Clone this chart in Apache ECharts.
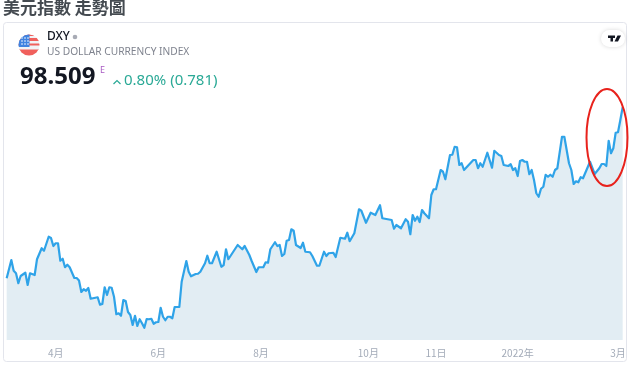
<!DOCTYPE html>
<html><head><meta charset="utf-8">
<style>html,body{margin:0;padding:0;background:#fff}#c{width:639px;height:371px}</style>
<script src="https://cdn.jsdelivr.net/npm/echarts@6/dist/echarts.min.js"></script>
</head><body><div id="c"></div>
<script>
const titleText = '美元指數 走勢圖';
const symbolText = 'DXY';
const nameText = 'US DOLLAR CURRENCY INDEX';
const lastPrice = '98.509';
const changeText = '0.80% (0.781)';
const tickSessions = [21, 65, 109, 155, 184, 219, 262];
const tickLabels = ['4月', '6月', '8月', '10月', '11日', '2022年', '3月'];
const sessions = [0,2,3,4,5,6,8,9,10,12,13,15,16,18,19,20,21,22,23,24,25,26,27,29,30,31,32,33,34,35,36,39,40,41,42,43,44,45,46,47,48,49,50,51,52,53,54,55,56,57,58,59,60,61,62,63,64,65,66,67,68,69,70,71,72,74,75,77,78,79,81,82,83,85,86,87,88,90,92,93,94,95,99,101,102,104,105,107,108,110,111,112,113,115,116,117,118,119,120,121,122,123,124,126,127,128,130,131,133,134,136,137,138,140,141,143,145,146,147,149,151,152,154,156,158,160,161,165,166,167,169,171,172,173,174,175,176,177,178,179,181,182,183,184,186,187,188,190,191,192,193,194,195,196,198,200,201,202,203,204,206,208,209,211,212,213,215,216,217,218,219,220,221,222,223,224,225,226,227,228,229,230,231,232,233,234,235,236,238,239,241,242,243,244,245,246,247,250,252,254,255,256,257,258,259,260,261,262,263,264];
const closes = [91.67,92.40,91.97,91.87,91.47,91.76,91.89,91.40,91.87,91.80,92.43,92.87,92.77,93.33,93.28,92.96,93.07,93.07,92.37,92.45,92.11,92.21,92.11,91.68,91.68,91.58,91.12,91.23,91.17,91.28,90.85,90.91,90.61,90.64,91.31,91.00,91.31,91.29,90.93,90.23,90.27,90.17,90.80,90.76,90.32,90.20,89.80,90.17,89.76,90.03,89.87,89.69,90.04,90.03,90.05,89.85,89.91,89.92,90.49,90.13,89.99,90.13,90.13,90.07,90.52,90.52,91.53,92.36,91.93,91.75,91.84,91.85,91.93,92.27,92.57,92.27,92.27,92.73,92.13,92.20,92.83,92.43,93.00,92.83,92.96,92.60,92.36,91.92,92.11,92.11,92.31,92.29,92.83,93.11,92.96,93.00,92.56,92.64,93.17,93.20,93.63,93.57,93.00,92.88,93.09,92.73,92.71,92.56,92.17,92.17,92.73,92.56,92.67,92.69,92.52,93.29,93.25,93.49,93.15,93.47,94.43,94.37,93.89,94.29,94.20,94.59,94.07,94.00,93.65,93.80,93.67,94.03,93.93,93.43,94.20,93.97,94.13,93.92,94.40,94.27,94.07,95.00,95.23,95.23,96.00,95.93,95.63,96.60,96.61,96.93,96.91,96.20,96.27,96.00,96.20,96.40,96.40,96.07,96.27,96.13,96.69,96.09,96.77,96.60,96.56,96.20,96.16,96.23,96.00,96.07,95.76,96.36,96.40,96.33,96.33,95.83,96.00,95.60,95.07,94.93,95.25,95.33,95.81,95.73,95.81,95.73,96.00,96.07,97.33,97.33,96.27,96.00,95.44,95.55,95.51,95.71,95.67,96.33,95.84,96.07,96.24,96.24,96.16,97.17,96.67,96.87,97.49,97.51,98.00,98.509];

const flag = "data:image/svg+xml;utf8," + encodeURIComponent(
 '<svg xmlns="http://www.w3.org/2000/svg" width="22" height="22" viewBox="0 0 22 22"><defs><clipPath id="a"><circle cx="11" cy="11" r="10.5"/></clipPath></defs><g clip-path="url(#a)"><rect width="22" height="22" fill="#f1f3f6"/><rect y="4" width="22" height="3" fill="#f0605c"/><rect y="0" width="22" height="2" fill="#f0605c"/><rect y="9.5" width="22" height="2" fill="#f0605c"/><rect y="15" width="22" height="7" fill="#f0605c"/><rect y="13" width="22" height="2.5" fill="#f1f3f6"/><rect width="11.5" height="13" fill="#3f83e0"/><g fill="#fff"><circle cx="4" cy="4" r=".8"/><circle cx="7" cy="4" r=".8"/><circle cx="10" cy="4" r=".8"/><circle cx="4" cy="7" r=".8"/><circle cx="7" cy="7" r=".8"/><circle cx="10" cy="7" r=".8"/><circle cx="4" cy="10" r=".8"/><circle cx="7" cy="10" r=".8"/><circle cx="10" cy="10" r=".8"/></g></g></svg>');

const cjk = '"Noto Sans CJK TC","Noto Sans",sans-serif';
const ui = '"Noto Sans",sans-serif';
const chart = echarts.init(document.getElementById('c'), null, {renderer:'canvas'});
chart.setOption({
  animation:false,
  backgroundColor:'#fff',
  grid:{left:6.67,right:16.33,top:22,bottom:31,containLabel:false},
  xAxis:{type:'value',min:0,max:264,splitLine:{show:false},axisLine:{show:false},axisTick:{show:false},
    axisLabel:{customValues:tickSessions,formatter:v=>tickLabels[tickSessions.indexOf(v)],color:'#a3abb8',fontSize:10,fontFamily:cjk,margin:8,hideOverlap:false,showMinLabel:true,showMaxLabel:true}},
  yAxis:{type:'value',min:89.2,max:101.92,show:false,splitLine:{show:false}},
  series:[{type:'line',data:sessions.map((s,i)=>[s,closes[i]]),showSymbol:false,smooth:false,clip:false,
    lineStyle:{color:'#2fa3e8',width:2.2,join:'round'},areaStyle:{color:'#e2edf3',opacity:1,origin:'start'},z:3}],
  graphic:[
    {type:'text',left:3,top:-1,z:20,style:{text:titleText,font:'bold 17px '+cjk,fill:'#444a50'}},
    {type:'rect',z:-1,silent:true,shape:{x:3.5,y:22.5,width:623,height:339,r:3},style:{fill:'none',stroke:'#e3e5ec',lineWidth:1}},
    {type:'image',left:18,top:34,z:20,style:{image:flag,width:22,height:22}},
    {type:'text',left:47,top:31,z:20,style:{text:symbolText,font:'500 12px '+ui,fill:'#131722'}},
    {type:'circle',z:20,shape:{cx:75,cy:37,r:2.3},style:{fill:'#a8abb5'}},
    {type:'text',left:47,top:47,z:20,style:{text:nameText,font:'10.2px '+ui,fill:'#7f838e'}},
    {type:'text',left:20,top:65,z:20,style:{text:lastPrice,font:'bold 24px '+ui,fill:'#131722'}},
    {type:'text',left:100,top:66,z:20,style:{text:'E',font:'9px '+ui,fill:'#a95cc4'}},
    {type:'polyline',z:20,shape:{points:[[113.5,84],[117,80.5],[120.5,84]]},style:{fill:'none',stroke:'#2aa996',lineWidth:1.2}},
    {type:'text',left:124,top:73,z:20,style:{text:changeText,font:'15px '+ui,fill:'#2aa996'}},
    {type:'rect',z:19,shape:{x:601,y:30,width:24,height:17,r:8.5},style:{fill:'#fff',shadowBlur:4,shadowColor:'rgba(0,0,0,0.15)'}},
    {type:'polygon',z:20,shape:{points:[[608,35.5],[615,35.5],[615,38],[613,38],[613,41.5],[610.5,41.5],[610.5,38],[608,38]]},style:{fill:'#131722'}},
    {type:'polygon',z:20,shape:{points:[[617.5,35.5],[621,35.5],[618,41.5],[614.5,41.5]]},style:{fill:'#131722'}},
    {type:'ellipse',z:25,shape:{cx:607,cy:137.5,rx:20.5,ry:48.5},style:{fill:'none',stroke:'#e8221c',lineWidth:2}}
  ]
});
</script></body></html>
